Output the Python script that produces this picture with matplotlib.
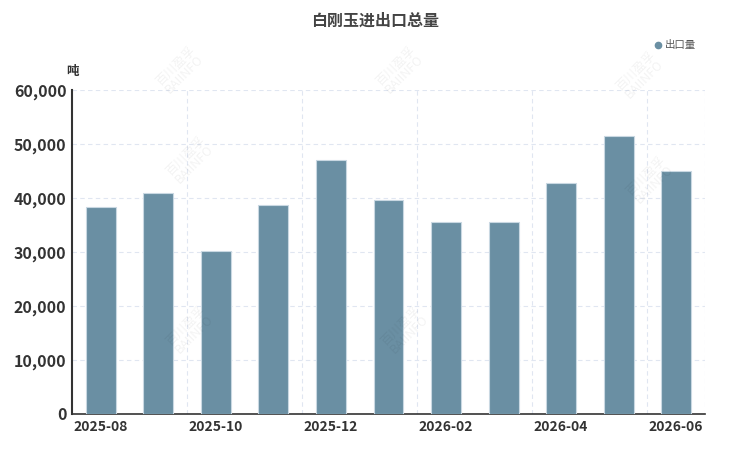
import matplotlib.pyplot as plt
from matplotlib.lines import Line2D
import numpy as np

plt.rcParams['font.family'] = ['Noto Sans CJK SC', 'DejaVu Sans']

months = ['2025-08', '2025-09', '2025-10', '2025-11', '2025-12', '2026-01',
          '2026-02', '2026-03', '2026-04', '2026-05', '2026-06']
export = [38400, 40900, 30200, 38650, 47050, 39580,
          35580, 35620, 42850, 51530, 44920]
yticks = [0, 10000, 20000, 30000, 40000, 50000, 60000]

fig = plt.figure(figsize=(7.5, 4.5), dpi=100)
ax = fig.add_axes([72 / 750, 1 - 414 / 450, 633 / 750, 324 / 450])

x = np.arange(len(months))
ax.bar(x, export, width=0.52, color='#6a8fa3', edgecolor='#c9d8e2',
       linewidth=0.8, zorder=3)

ax.set_xlim(-0.5, len(months) - 0.5)
ax.set_ylim(0, 60000)
ax.set_yticks(yticks)
ax.set_yticklabels([f'{v:,}' for v in yticks], fontsize=11.5,
                   fontweight='bold', color='#333333')
ax.set_xticks(x[::2])
ax.set_xticklabels(months[::2], fontsize=10, fontweight='bold',
                   color='#333333')
ax.tick_params(axis='both', length=0, pad=4)

# grid lines (vertical ones sit on category boundaries)
for v in yticks[1:]:
    ax.axhline(v, color='#e0e6f1', linestyle=(0, (4, 3)), linewidth=0.8,
               zorder=1)
for b in list(x[::2][1:] - 0.5) + [len(months) - 0.5]:
    ax.axvline(b, color='#e0e6f1', linestyle=(0, (4, 3)), linewidth=0.8,
               zorder=1)

for s in ['top', 'right']:
    ax.spines[s].set_visible(False)
ax.spines['left'].set_color('#333333')
ax.spines['left'].set_linewidth(1.5)
ax.spines['bottom'].set_color('#333333')
ax.spines['bottom'].set_linewidth(1.2)

# faint watermarks
for wx, wy in [(190, 160), (405, 330), (640, 75), (650, 180), (190, 330),
               (400, 70), (180, 70)]:
    fig.text(wx / 750, 1 - wy / 450, '百川盈孚\nBAIINFO', fontsize=9,
             color='#000000', alpha=0.05, rotation=45, ha='center',
             va='center', linespacing=0.9)

fig.text(375 / 750, 1 - 21 / 450, '白刚玉进出口总量', fontsize=11.5,
         fontweight='bold', color='#444444', ha='center', va='center')
fig.text(72 / 750, 1 - 71 / 450, '吨', fontsize=9, fontweight='bold',
         color='#333333', ha='center', va='center')

ax.legend([Line2D([0], [0], marker='o', color='none',
                  markerfacecolor='#6a8fa3', markeredgecolor='#6a8fa3',
                  markersize=4.5)], ['出口量'],
          loc='upper right', bbox_to_anchor=(700 / 750, 1 - 36 / 450),
          bbox_transform=fig.transFigure, frameon=False, fontsize=7.5,
          handlelength=0.6, handletextpad=0.3, labelcolor='#555555',
          borderaxespad=0)

fig.savefig('out.png', dpi=100)
